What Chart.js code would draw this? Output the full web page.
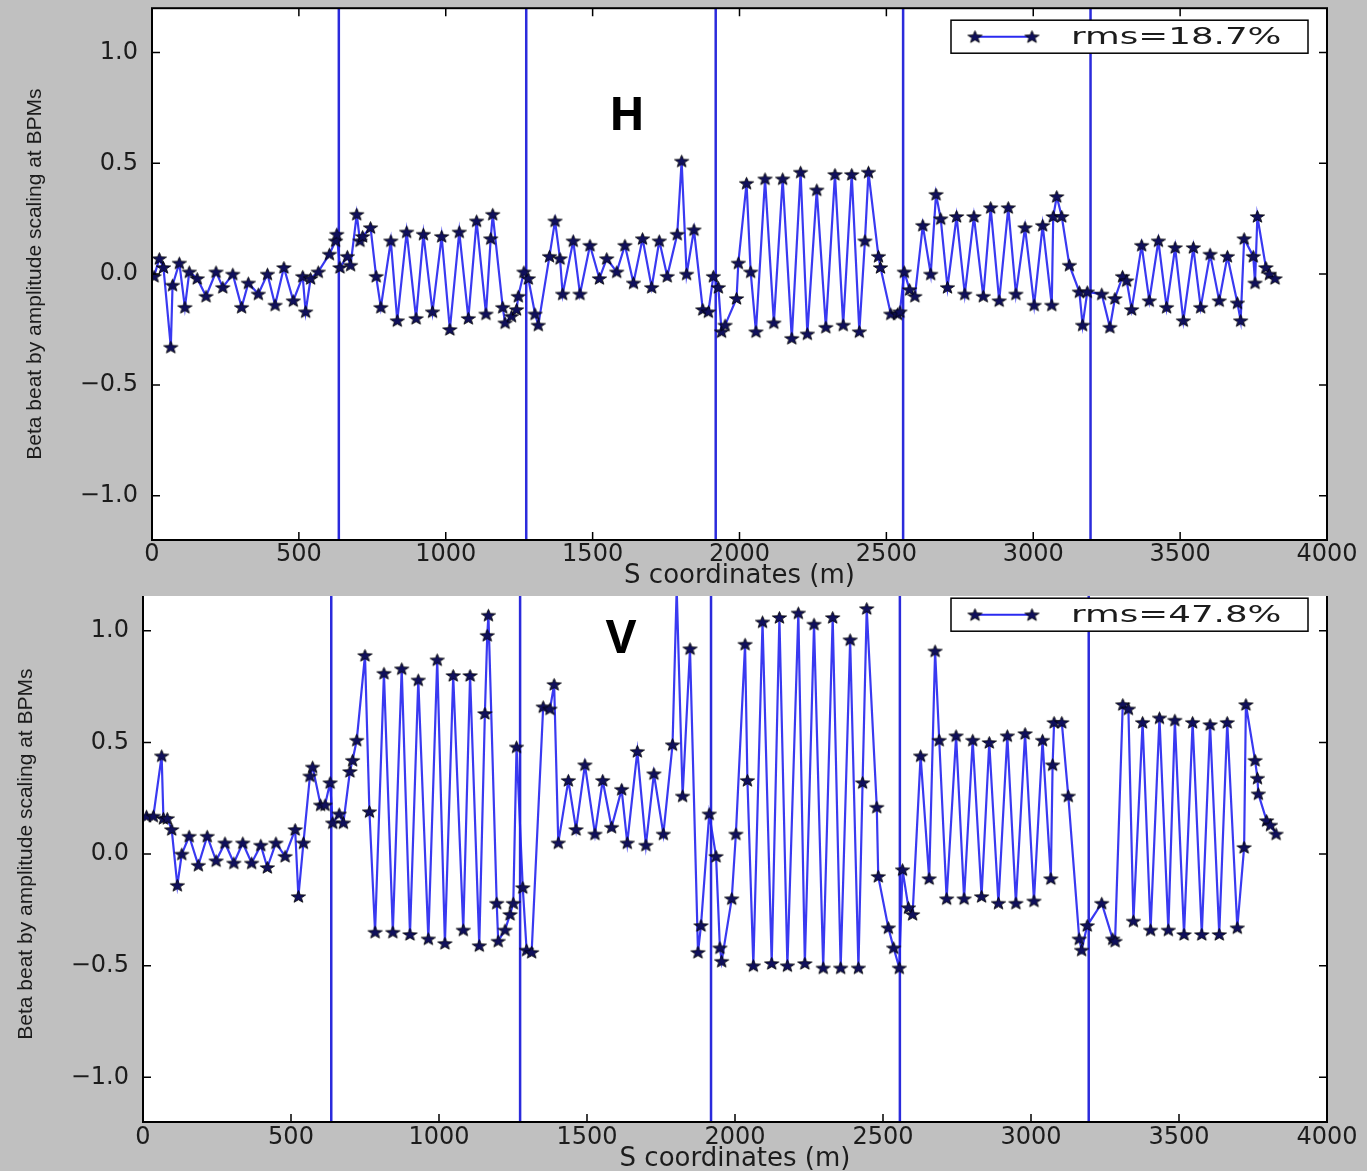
<!DOCTYPE html>
<html>
<head>
<meta charset="utf-8">
<script src="https://cdn.jsdelivr.net/npm/chart.js@4.4.1/dist/chart.umd.min.js"></script>
<style>
  html, body { margin: 0; padding: 0; background: #c0c0c0; }
  body { width: 1367px; height: 1171px; position: relative; overflow: hidden; }
  .panel { position: absolute; left: 0; width: 1367px; }
  #panelH { top: 0; height: 596px; z-index: 2; background: #c0c0c0; }
  #panelV { top: 578px; height: 593px; z-index: 1; }
  .tag { position: absolute; width: 100px; text-align: center; line-height: 47px;
         font: bold 47px 'Open Sans', 'Noto Sans', sans-serif; color: #000; z-index: 3; }
</style>
</head>
<body>
<div class="panel" id="panelH"><canvas id="chartH" width="1367" height="596"></canvas></div>
<div class="panel" id="panelV"><canvas id="chartV" width="1367" height="593"></canvas></div>
<div class="tag" style="left:577px; top:80px;">H</div>
<div class="tag" style="left:571px; top:603px;">V</div>
<script>
// BPM positions (m) and beta beat, horizontal plane
const sH = [7, 25, 39, 64, 70, 93, 112, 127, 154, 184, 218, 241, 275, 305, 328, 362, 393, 419, 449, 481,
  513, 523, 540, 566, 604, 625, 629, 640, 665, 676, 697, 708, 717, 744, 763, 779, 813, 835, 867, 899,
  924, 955, 986, 1014, 1046, 1077, 1105, 1137, 1153, 1160, 1194, 1202, 1224, 1241, 1247, 1266, 1281, 1304, 1315, 1353,
  1372, 1389, 1398, 1434, 1457, 1491, 1523, 1548, 1582, 1610, 1639, 1670, 1701, 1727, 1754, 1788, 1803, 1820, 1845, 1875,
  1894, 1911, 1928, 1939, 1951, 1990, 1996, 2024, 2038, 2056, 2087, 2117, 2147, 2178, 2208, 2231, 2263, 2294, 2325, 2353,
  2382, 2408, 2427, 2439, 2473, 2480, 2515, 2538, 2546, 2561, 2579, 2597, 2624, 2651, 2669, 2685, 2708, 2739, 2767, 2798,
  2830, 2855, 2884, 2915, 2941, 2972, 3003, 3032, 3063, 3068, 3080, 3097, 3123, 3157, 3168, 3184, 3233, 3261, 3278, 3304,
  3318, 3335, 3369, 3395, 3426, 3454, 3483, 3511, 3545, 3570, 3602, 3633, 3661, 3695, 3706, 3718, 3749, 3755, 3763, 3792,
  3804, 3823];
const betaH = [-0.01, 0.07, 0.03, -0.33, -0.05, 0.05, -0.15, 0.01, -0.02, -0.10, 0.01, -0.06, 0.0, -0.15, -0.04, -0.09, 0.0, -0.14, 0.03, -0.12,
  -0.01, -0.17, -0.02, 0.01, 0.09, 0.15, 0.18, 0.03, 0.08, 0.04, 0.27, 0.15, 0.17, 0.21, -0.01, -0.15, 0.15, -0.21, 0.19, -0.20,
  0.18, -0.17, 0.17, -0.25, 0.19, -0.20, 0.24, -0.18, 0.16, 0.27, -0.15, -0.22, -0.19, -0.16, -0.10, 0.01, -0.02, -0.18, -0.23, 0.08,
  0.24, 0.07, -0.09, 0.15, -0.09, 0.13, -0.02, 0.07, 0.01, 0.13, -0.04, 0.16, -0.06, 0.15, -0.01, 0.18, 0.51, 0.0, 0.20, -0.16,
  -0.17, -0.01, -0.06, -0.26, -0.23, -0.11, 0.05, 0.41, 0.01, -0.26, 0.43, -0.22, 0.43, -0.29, 0.46, -0.27, 0.38, -0.24, 0.45, -0.23,
  0.45, -0.26, 0.15, 0.46, 0.08, 0.03, -0.18, -0.18, -0.17, 0.01, -0.07, -0.10, 0.22, 0.0, 0.36, 0.25, -0.06, 0.26, -0.09, 0.26,
  -0.10, 0.30, -0.12, 0.30, -0.09, 0.21, -0.14, 0.22, -0.14, 0.26, 0.35, 0.26, 0.04, -0.08, -0.23, -0.08, -0.09, -0.24, -0.11, -0.01,
  -0.03, -0.16, 0.13, -0.12, 0.15, -0.15, 0.12, -0.21, 0.12, -0.15, 0.09, -0.12, 0.08, -0.13, -0.21, 0.16, 0.08, -0.04, 0.26, 0.03,
  0.0, -0.02];

// BPM positions (m) and beta beat, vertical plane
const sV = [12, 35, 63, 69, 82, 97, 116, 131, 156, 187, 217, 247, 277, 307, 337, 367, 398, 420, 449, 480,
  514, 525, 542, 564, 573, 600, 615, 632, 641, 663, 677, 699, 708, 722, 750, 765, 784, 814, 844, 874,
  902, 930, 964, 994, 1020, 1048, 1082, 1105, 1136, 1155, 1163, 1167, 1195, 1200, 1223, 1240, 1251, 1262, 1283, 1296,
  1313, 1352, 1375, 1389, 1403, 1437, 1463, 1493, 1527, 1553, 1583, 1617, 1636, 1670, 1699, 1726, 1758, 1789, 1803, 1823,
  1848, 1875, 1885, 1913, 1936, 1949, 1955, 1989, 2003, 2034, 2042, 2062, 2093, 2124, 2150, 2177, 2214, 2236, 2267, 2298,
  2330, 2357, 2389, 2417, 2431, 2445, 2479, 2484, 2518, 2536, 2555, 2566, 2586, 2600, 2627, 2656, 2676, 2690, 2715, 2747,
  2774, 2803, 2833, 2859, 2890, 2920, 2949, 2980, 3010, 3039, 3067, 3073, 3078, 3104, 3126, 3163, 3171, 3190, 3239, 3276,
  3284, 3310, 3329, 3346, 3377, 3404, 3434, 3464, 3486, 3517, 3546, 3577, 3605, 3636, 3663, 3697, 3720, 3726, 3757, 3765,
  3768, 3796, 3809, 3828];
const betaV = [0.17, 0.17, 0.44, 0.16, 0.16, 0.11, -0.14, 0.0, 0.08, -0.05, 0.08, -0.03, 0.05, -0.04, 0.05, -0.04, 0.04, -0.06, 0.05, -0.01,
  0.11, -0.19, 0.05, 0.35, 0.39, 0.22, 0.22, 0.32, 0.14, 0.18, 0.14, 0.37, 0.42, 0.51, 0.89, 0.19, -0.35, 0.81, -0.35, 0.83,
  -0.36, 0.78, -0.38, 0.87, -0.40, 0.80, -0.34, 0.80, -0.41, 0.63, 0.98, 1.07, -0.22, -0.39, -0.34, -0.27, -0.22, 0.48, -0.15, -0.43,
  -0.44, 0.66, 0.65, 0.76, 0.05, 0.33, 0.11, 0.40, 0.09, 0.33, 0.12, 0.29, 0.05, 0.46, 0.04, 0.36, 0.09, 0.49, 1.19, 0.26,
  0.92, -0.44, -0.32, 0.18, -0.01, -0.42, -0.48, -0.20, 0.09, 0.94, 0.33, -0.50, 1.04, -0.49, 1.06, -0.50, 1.08, -0.49, 1.03, -0.51,
  1.06, -0.51, 0.96, -0.51, 0.32, 1.10, 0.21, -0.10, -0.33, -0.42, -0.51, -0.07, -0.24, -0.27, 0.44, -0.11, 0.91, 0.51, -0.20, 0.53,
  -0.20, 0.51, -0.19, 0.50, -0.22, 0.53, -0.22, 0.54, -0.21, 0.51, -0.11, 0.40, 0.59, 0.59, 0.26, -0.38, -0.43, -0.32, -0.22, -0.38,
  -0.39, 0.67, 0.65, -0.30, 0.59, -0.34, 0.61, -0.34, 0.60, -0.36, 0.59, -0.36, 0.58, -0.36, 0.59, -0.33, 0.03, 0.67, 0.42, 0.34,
  0.27, 0.15, 0.13, 0.09];

// arc boundaries marked by vertical lines
const sectorS = [636, 1274, 1919, 2557, 3195];

const xTicks = [0, 500, 1000, 1500, 2000, 2500, 3000, 3500, 4000];
const yTicks = [-1.0, -0.5, 0.0, 0.5, 1.0];
const yMin = -1.2, yMax = 1.2;

const legendH = 'rms=18.7%';
const legendV = 'rms=47.8%';

Chart.defaults.font.family = 'DejaVu Sans';
Chart.defaults.color = '#1c1c1c';

function makeStar(rx, ry) {
  const c = document.createElement('canvas');
  c.width = Math.ceil(rx * 2 + 2);
  c.height = Math.ceil(ry * 2 + 2);
  const g = c.getContext('2d');
  g.translate(c.width / 2, c.height / 2 + 0.5);
  g.beginPath();
  for (let i = 0; i < 10; i++) {
    const k = i % 2 ? 0.42 : 1;
    const a = -Math.PI / 2 + i * Math.PI / 5;
    g.lineTo(rx * k * Math.cos(a), ry * k * Math.sin(a));
  }
  g.closePath();
  g.fillStyle = '#10105c';
  g.fill();
  g.strokeStyle = '#000';
  g.lineWidth = 0.8;
  g.stroke();
  return c;
}
const star = makeStar(7.5, 6.5);

// white plot face, inward ticks, box and legend in the matplotlib manner
const frame = {
  id: 'frame',
  beforeDraw(chart) {
    const { ctx, chartArea: a } = chart;
    ctx.save();
    ctx.fillStyle = '#ffffff';
    ctx.fillRect(a.left, a.top, a.right - a.left, a.bottom - a.top);
    ctx.restore();
  },
  afterDraw(chart, args, opts) {
    const { ctx, chartArea: a, scales: { x, y } } = chart;
    ctx.save();
    ctx.strokeStyle = '#000';
    ctx.lineWidth = 1.5;
    ctx.beginPath();
    xTicks.forEach(v => {
      const px = x.getPixelForValue(v);
      ctx.moveTo(px, a.bottom); ctx.lineTo(px, a.bottom - 8);
      ctx.moveTo(px, a.top); ctx.lineTo(px, a.top + 8);
    });
    yTicks.forEach(v => {
      const py = y.getPixelForValue(v);
      ctx.moveTo(a.left, py); ctx.lineTo(a.left + 8, py);
      ctx.moveTo(a.right, py); ctx.lineTo(a.right - 8, py);
    });
    ctx.stroke();
    ctx.lineWidth = 2;
    ctx.strokeRect(a.left, a.top, a.right - a.left, a.bottom - a.top);

    // legend box
    const bw = 357, bh = 33;
    const bx = a.right - 19 - bw, by = a.top + 12;
    ctx.fillStyle = '#fff';
    ctx.fillRect(bx, by, bw, bh);
    ctx.lineWidth = 1.5;
    ctx.strokeRect(bx, by, bw, bh);
    const my = by + bh / 2;
    ctx.strokeStyle = '#2a2af0';
    ctx.lineWidth = 2;
    ctx.beginPath();
    ctx.moveTo(bx + 24, my); ctx.lineTo(bx + 81, my);
    ctx.stroke();
    ctx.drawImage(star, bx + 24 - star.width / 2, my - star.height / 2);
    ctx.drawImage(star, bx + 81 - star.width / 2, my - star.height / 2);
    ctx.translate(bx + 120, my + 1);
    ctx.scale(1.55, 1);
    ctx.fillStyle = '#1c1c1c';
    ctx.font = '23px "DejaVu Sans"';
    ctx.textBaseline = 'middle';
    ctx.fillText(opts.label, 0, 0);
    ctx.restore();
  }
};

function points(s, b) {
  return s.map((v, i) => ({ x: v, y: b[i] }));
}

function sectorLines() {
  return sectorS.map(s => ({
    data: [{ x: s, y: yMin }, { x: s, y: yMax }],
    showLine: true,
    borderColor: '#2b2bdc',
    borderWidth: 2.5,
    pointRadius: 0
  }));
}

function makeChart(id, s, b, label, cfg) {
  return new Chart(document.getElementById(id), {
    type: 'scatter',
    data: {
      datasets: [{
        data: points(s, b),
        showLine: true,
        borderColor: 'rgba(36,36,240,0.9)',
        borderWidth: 2.2,
        pointStyle: star,
        pointRadius: 6
      }].concat(sectorLines())
    },
    options: {
      responsive: false,
      animation: false,
      layout: { padding: { top: 8, right: 40, left: 0, bottom: 0 } },
      plugins: {
        legend: { display: false },
        tooltip: { enabled: false },
        frame: { label: label }
      },
      scales: {
        x: {
          type: 'linear',
          min: 0,
          max: 4000,
          afterBuildTicks: sc => { sc.ticks = xTicks.map(v => ({ value: v })); },
          afterFit: sc => { sc.height = cfg.xHeight; },
          grid: { display: false, drawTicks: false },
          border: { display: false },
          ticks: {
            font: { size: 24 },
            padding: cfg.xTickPad,
            maxRotation: 0,
            autoSkip: false,
            callback: v => String(v)
          },
          title: {
            display: true,
            text: 'S coordinates (m)',
            font: { size: 26 },
            padding: { top: 0, bottom: cfg.xTitlePad }
          }
        },
        y: {
          min: yMin,
          max: yMax,
          afterBuildTicks: sc => { sc.ticks = yTicks.map(v => ({ value: v })); },
          afterFit: sc => { sc.width = cfg.yWidth; sc.paddingTop = 0; sc.paddingBottom = 0; },
          grid: { display: false, drawTicks: false },
          border: { display: false },
          ticks: {
            font: { size: 24 },
            padding: 14,
            callback: v => v.toFixed(1).replace('-', '\u2212')
          },
          title: {
            display: true,
            text: 'Beta beat by amplitude scaling at BPMs',
            font: { family: 'Liberation Sans', size: 21 },
            padding: { top: cfg.yTitlePad, bottom: 0 }
          }
        }
      }
    },
    plugins: [frame]
  });
}

makeChart('chartH', sH, betaH, legendH, { xHeight: 56, yWidth: 152, xTickPad: 0, xTitlePad: 4, yTitlePad: 23 });
makeChart('chartV', sV, betaV, legendV, { xHeight: 49, yWidth: 143, xTickPad: 1, xTitlePad: -4, yTitlePad: 14 });
</script>
</body>
</html>
